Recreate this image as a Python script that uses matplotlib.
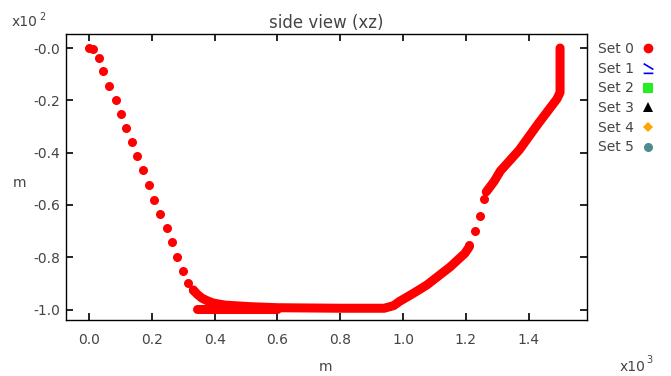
import matplotlib
matplotlib.use("Agg")
import matplotlib.pyplot as plt
from matplotlib.lines import Line2D
from matplotlib.path import Path

plt.rcParams['font.family'] = ['DejaVu Sans']

# Set 0 -- sparse dots (x in 10^3 m, z in 10^2 m)
dots_x = [0.0, 0.012, 0.032, 0.046, 0.064, 0.085, 0.101, 0.118, 0.137, 0.154,
          0.171, 0.192, 0.208, 0.226, 0.247, 0.263, 0.281, 0.300, 0.316, 0.332,
          1.211, 1.229, 1.245, 1.259]
dots_z = [0.0, -0.004, -0.039, -0.088, -0.144, -0.200, -0.251, -0.305, -0.358, -0.413,
          -0.468, -0.524, -0.581, -0.635, -0.687, -0.741, -0.798, -0.852, -0.898, -0.925,
          -0.753, -0.700, -0.642, -0.577]

# Set 0 -- densely packed runs of points (drawn as a continuous band)
band1_x = [0.332, 0.344, 0.359, 0.376, 0.395, 0.433, 0.513, 0.60, 0.80, 0.94,
           0.97, 0.99, 1.03, 1.076, 1.15, 1.197, 1.211]
band1_z = [-0.925, -0.941, -0.956, -0.966, -0.975, -0.983, -0.989, -0.993, -0.995, -0.995,
           -0.985, -0.968, -0.940, -0.906, -0.837, -0.785, -0.760]
band2_x = [0.343, 0.60]
band2_z = [-0.997, -0.997]
band3_x = [1.265, 1.29, 1.31, 1.37, 1.43, 1.49, 1.50, 1.50]
band3_z = [-0.550, -0.510, -0.470, -0.390, -0.290, -0.195, -0.170, 0.0]

x_ticks = [0.0, 0.2, 0.4, 0.6, 0.8, 1.0, 1.2, 1.4]
x_labels = ["0.0", "0.2", "0.4", "0.6", "0.8", "1.0", "1.2", "1.4"]
y_ticks = [0.0, -0.2, -0.4, -0.6, -0.8, -1.0]
y_labels = ["-0.0", "-0.2", "-0.4", "-0.6", "-0.8", "-1.0"]

legend_labels = ["Set 0", "Set 1", "Set 2", "Set 3", "Set 4", "Set 5"]
legend_colors = ["#ff0000", "#0000ff", "#22ee22", "#000000", "#ffa500", "#4f8a8e"]

RED = "#ff0000"
TXT = "#444444"

fig = plt.figure(figsize=(6.71, 3.76), dpi=100)
ax = fig.add_axes([0.0984, 0.1489, 0.7765, 0.7606])

for bx, bz in [(band1_x, band1_z), (band2_x, band2_z), (band3_x, band3_z)]:
    ax.plot(bx, bz, color=RED, lw=6.5, solid_capstyle='round',
            solid_joinstyle='round', zorder=3)
ax.plot(dots_x, dots_z, 'o', color=RED, ms=6.5, mew=0, zorder=4)

ax.set_xlim(-0.0732, 1.586)
ax.set_ylim(-1.040, 0.0535)
ax.set_xticks(x_ticks)
ax.set_xticklabels(x_labels)
ax.set_yticks(y_ticks)
ax.set_yticklabels(y_labels)
ax.tick_params(direction='in', length=5, width=1.2, top=True, right=True,
               labelsize=10, labelcolor=TXT)
ax.tick_params(axis='y', pad=4.5)
ax.tick_params(axis='x', pad=9.5)
for s in ax.spines.values():
    s.set_linewidth(1.0)

fig.text(326 / 671, 1 - 23 / 376, "side view (xz)", ha='center', va='center',
         fontsize=12, color=TXT)
fig.text(12 / 671, 1 - 22 / 376, "x10", ha='left', va='center', fontsize=10, color=TXT)
fig.text(39 / 671, 1 - 17 / 376, "2", ha='left', va='center', fontsize=7, color=TXT)
fig.text(20 / 671, 1 - 183 / 376, "m", ha='center', va='center', fontsize=10, color=TXT)
fig.text(326 / 671, 1 - 367 / 376, "m", ha='center', va='center', fontsize=10, color=TXT)
fig.text(620 / 671, 1 - 367 / 376, "x10", ha='left', va='center', fontsize=10, color=TXT)
fig.text(646 / 671, 1 - 360 / 376, "3", ha='left', va='center', fontsize=7, color=TXT)

set1_marker = Path([(-1, 1), (1, -0.2), (-1, -1), (1, -1)],
                   [Path.MOVETO, Path.LINETO, Path.MOVETO, Path.LINETO])
markers = ['o', set1_marker, 's', '^', 'D', 'o']
sizes = [7, 7, 6.5, 6.5, 5, 6.5]
handles = []
for lab, col, mk, sz in zip(legend_labels, legend_colors, markers, sizes):
    if mk is set1_marker:
        h = Line2D([], [], ls='none', marker=mk, ms=sz, mfc='none', mec=col, mew=1.2)
    else:
        h = Line2D([], [], ls='none', marker=mk, ms=sz, color=col, mew=0)
    handles.append(h)
leg = fig.legend(handles, legend_labels, loc='upper left',
                 bbox_to_anchor=(598 / 671, 1 - 42 / 376), frameon=False,
                 markerfirst=False, fontsize=10, labelspacing=0.41,
                 handlelength=1.0, handletextpad=0.5, borderpad=0, borderaxespad=0)
for t in leg.get_texts():
    t.set_color(TXT)

fig.savefig("out.png", dpi=100)
